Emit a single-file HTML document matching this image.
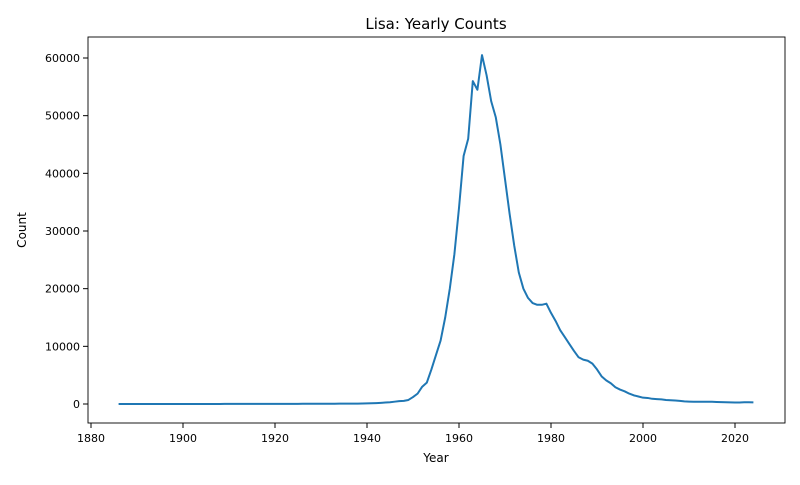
<!DOCTYPE html>
<html><head><meta charset="utf-8"><style>
body{margin:0;background:#fff}
svg{font-family:"DejaVu Sans","Liberation Sans",sans-serif}
</style></head><body>
<svg id="chart" width="800" height="480">
<text x="436" y="29" font-size="15" text-anchor="middle">Lisa: Yearly Counts</text>
<rect x="88" y="37" width="697" height="386" fill="none" stroke="#000" stroke-width="0.9"/>
<g id="xt"></g>
<g id="yt"></g>
<text x="436" y="462" font-size="12" text-anchor="middle">Year</text>
<text x="0" y="0" font-size="12" text-anchor="middle" transform="translate(26,230) rotate(-90)">Count</text>
<path id="line" fill="none" stroke="#1f77b4" stroke-width="2" stroke-linejoin="round"/>
</svg>
<script>
const startYear = 1886;
const counts = [5,5,5,5,6,6,6,6,7,7,7,7,8,8,8,9,9,9,10,10,10,11,11,12,12,13,14,15,16,17,18,19,20,22,24,25,27,28,30,32,33,35,37,40,42,45,48,50,55,60,65,70,75,80,
100,120,150,200,250,300,400,500,550,700,1200,1800,3000,3700,6000,8500,11000,15000,20000,26000,34000,43000,46000,56000,54500,60500,57000,52500,49700,45000,39000,33000,27500,22800,20000,18400,17500,17200,17200,17400,15800,14400,12800,11600,10400,9200,8100,7700,7500,7000,6000,4800,4100,3600,2900,2500,2200,1800,1500,1300,1100,1050,900,850,800,700,650,600,550,450,420,400,400,380,400,380,350,320,300,280,250,270,300,310,280];
const xTicks = [1880,1900,1920,1940,1960,1980,2000,2020];
const yTicks = [0,10000,20000,30000,40000,50000,60000];
const xs = y => 91 + (y-1880)*(735-91)/140;
const ys = v => 404 - v*(404-58)/60000;
const NS="http://www.w3.org/2000/svg";
const xt=document.getElementById('xt'), yt=document.getElementById('yt');
xTicks.forEach(t=>{
  const l=document.createElementNS(NS,'line');
  l.setAttribute('x1',xs(t));l.setAttribute('x2',xs(t));l.setAttribute('y1',423);l.setAttribute('y2',428);l.setAttribute('stroke','#000');
  
  
  xt.appendChild(l);
  const tx=document.createElementNS(NS,'text');
  tx.setAttribute('x',xs(t));tx.setAttribute('y',442);tx.setAttribute('font-size','11');tx.setAttribute('text-anchor','middle');tx.textContent=t;
  
  
  xt.appendChild(tx);
});
yTicks.forEach(t=>{
  const l=document.createElementNS(NS,'line');
  l.setAttribute('x1',83);l.setAttribute('x2',88);l.setAttribute('y1',ys(t));l.setAttribute('y2',ys(t));l.setAttribute('stroke','#000');
  
  
  yt.appendChild(l);
  const tx=document.createElementNS(NS,'text');
  tx.setAttribute('x',80);tx.setAttribute('y',ys(t)+4);tx.setAttribute('font-size','11');tx.setAttribute('text-anchor','end');tx.textContent=t;
  
  
  yt.appendChild(tx);
});
document.getElementById('line').setAttribute('d',counts.map((v,i)=>(i?'L':'M')+xs(startYear+i).toFixed(2)+' '+ys(v).toFixed(2)).join(' '));
</script>
</body></html>
